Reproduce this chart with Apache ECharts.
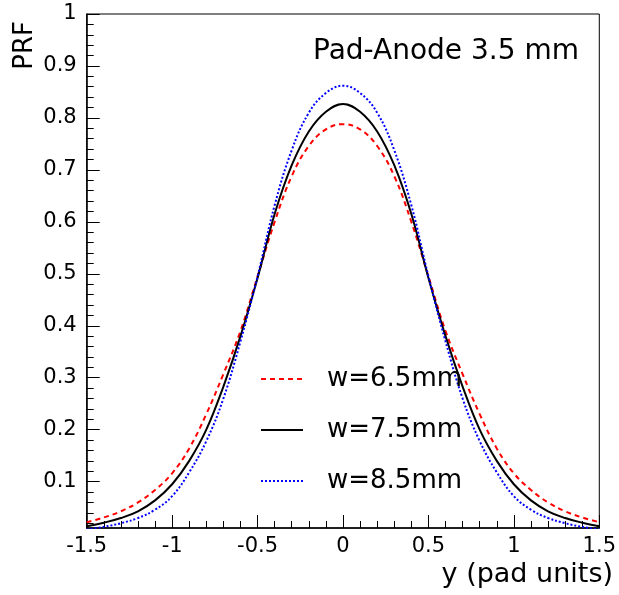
<!DOCTYPE html>
<html>
<head>
<meta charset="utf-8">
<script src="https://cdn.jsdelivr.net/npm/echarts@6/dist/echarts.min.js"></script>
<style>
html,body{margin:0;padding:0;background:#fff;}
#chart{width:619px;height:595px;}
</style>
</head>
<body>
<div id="chart"></div>
<script>
// ---- data ----
var xs = [-1.5,-1.4,-1.3,-1.2,-1.1,-1.0,-0.9,-0.8,-0.7,-0.6,-0.5,-0.4,-0.3,-0.2,-0.1,0,
          0.1,0.2,0.3,0.4,0.5,0.6,0.7,0.8,0.9,1.0,1.1,1.2,1.3,1.4,1.5];
var w65 = [0.022,0.031,0.043,0.060,0.084,0.116,0.164,0.230,0.307,0.390,0.495,0.600,0.688,0.746,0.778,0.788,
           0.778,0.746,0.688,0.600,0.495,0.390,0.307,0.230,0.164,0.116,0.084,0.060,0.043,0.031,0.022];
var w75 = [0.014,0.021,0.030,0.043,0.064,0.095,0.140,0.200,0.283,0.380,0.492,0.615,0.709,0.774,0.812,0.827,
           0.812,0.774,0.709,0.615,0.492,0.380,0.283,0.200,0.140,0.095,0.064,0.043,0.030,0.021,0.014];
var w85 = [0.008,0.013,0.020,0.030,0.046,0.072,0.118,0.178,0.260,0.370,0.495,0.632,0.738,0.810,0.848,0.862,
           0.848,0.810,0.738,0.632,0.495,0.370,0.260,0.178,0.118,0.072,0.046,0.030,0.020,0.013,0.008];
var seriesNames = ['w=6.5mm','w=7.5mm','w=8.5mm'];
var yTickLabels = [0.1,0.2,0.3,0.4,0.5,0.6,0.7,0.8,0.9,1];
var yMinorTicks = [0.02,0.04,0.06,0.08,0.12,0.14,0.16,0.18,0.22,0.24,0.26,0.28,0.32,0.34,0.36,0.38,
                   0.42,0.44,0.46,0.48,0.52,0.54,0.56,0.58,0.62,0.64,0.66,0.68,0.72,0.74,0.76,0.78,
                   0.82,0.84,0.86,0.88,0.92,0.94,0.96,0.98];
var titleText = 'Pad-Anode 3.5 mm';
var xTitle = 'y (pad units)';
var yTitle = 'PRF';

var FONT = 'DejaVu Sans';
function pairs(v){ return xs.map(function(x,i){ return [x, v[i]]; }); }

var chart = echarts.init(document.getElementById('chart'), null, {renderer:'canvas'});
chart.setOption({
  animation:false,
  backgroundColor:'#fff',
  grid:{left:86.7, right:18, top:14, bottom:67, show:true, borderColor:'#000', borderWidth:1, containLabel:false},
  xAxis:{
    type:'value', min:-1.5, max:1.5, interval:0.5,
    axisLine:{show:true, onZero:false, lineStyle:{color:'#000', width:1.5}},
    axisTick:{show:true, inside:true, length:13, lineStyle:{color:'#000', width:1}},
    minorTick:{show:true, splitNumber:5, length:7, lineStyle:{color:'#000', width:1}},
    splitLine:{show:false},
    axisLabel:{color:'#000', fontFamily:FONT, fontSize:21, margin:8}
  },
  yAxis:[{
    type:'value', min:0.0108, max:1, position:'left',
    axisLine:{show:true, onZero:false, lineStyle:{color:'#000', width:1.5}},
    axisTick:{show:true, inside:true, length:13, customValues:yTickLabels, lineStyle:{color:'#000', width:1}},
    axisLabel:{color:'#000', fontFamily:FONT, fontSize:21, margin:10, customValues:yTickLabels},
    splitLine:{show:false}
  },{
    type:'value', min:0.0108, max:1, position:'left',
    axisLine:{show:false, onZero:false},
    axisTick:{show:true, inside:true, length:7, customValues:yMinorTicks, lineStyle:{color:'#000', width:1}},
    axisLabel:{show:false},
    splitLine:{show:false}
  }],
  legend:{
    orient:'vertical', left:255, top:359,
    itemWidth:42, itemHeight:14, itemGap:21,
    itemStyle:{opacity:0},
    textStyle:{fontFamily:FONT, fontSize:26, color:'#000', lineHeight:30, padding:[0,0,0,19]},
    data:seriesNames
  },
  series:[
    {name:seriesNames[0], type:'line', data:pairs(w65), smooth:0.4, symbol:'none', clip:true,
     lineStyle:{color:'#ff0000', width:2, type:[5,4]}, itemStyle:{color:'#ff0000'}},
    {name:seriesNames[1], type:'line', data:pairs(w75), smooth:0.4, symbol:'none', clip:true,
     lineStyle:{color:'#000000', width:2, type:'solid'}, itemStyle:{color:'#000000'}},
    {name:seriesNames[2], type:'line', data:pairs(w85), smooth:0.4, symbol:'none', clip:true,
     lineStyle:{color:'#0000ff', width:2, type:[2,2]}, itemStyle:{color:'#0000ff'}}
  ],
  graphic:[
    {type:'text', left:313, top:38, style:{text:titleText, font:'28px "DejaVu Sans"', fill:'#000'}},
    {type:'text', x:25, y:21, rotation:Math.PI/2,
     style:{text:yTitle, font:'26px "DejaVu Sans"', fill:'#000', align:'right', verticalAlign:'middle'}},
    {type:'text', x:613, y:575,
     style:{text:xTitle, font:'27px "DejaVu Sans"', fill:'#000', align:'right', verticalAlign:'middle'}}
  ]
});
</script>
</body>
</html>
